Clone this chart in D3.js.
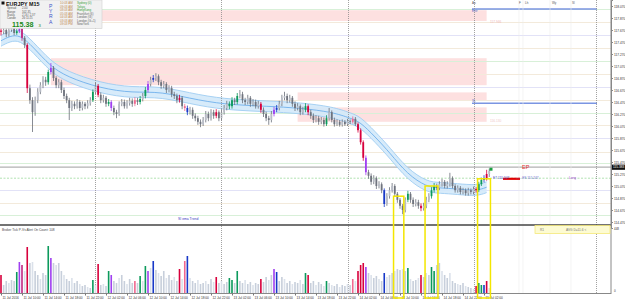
<!doctype html>
<html lang="en-US">
<head>
<meta charset="UTF-8">
<title>EURJPY M15</title>
<script src="https://cdn.jsdelivr.net/npm/d3@7"></script>
<style>
body { margin:0; background:#fff; }
svg { display:block; font-family:"Liberation Sans", Arial, sans-serif; }
</style>
</head>
<body>
<svg id="chart" width="625" height="303"></svg>
<script>

// ---- data (30 min bars from 11 Jul 06:00) ----
var firstOpen = 117.66;
var closes = [117.64,117.67,117.60,117.67,117.70,117.62,117.65,117.69,117.54,117.42,
  116.70,116.50,116.30,116.50,116.64,116.75,116.84,116.80,116.97,117.04,
  116.87,116.75,116.80,116.67,116.57,116.50,116.37,116.44,116.40,116.47,
  116.37,116.44,116.40,116.45,116.50,116.64,116.74,116.59,116.50,116.54,
  116.44,116.47,116.37,116.30,116.27,116.44,116.47,116.40,116.45,116.49,
  116.44,116.50,116.47,116.52,116.57,116.67,116.77,116.84,116.87,116.90,
  116.80,116.74,116.77,116.67,116.70,116.60,116.57,116.50,116.54,116.40,
  116.37,116.30,116.34,116.24,116.20,116.14,116.10,116.17,116.27,116.20,
  116.30,116.24,116.30,116.20,116.30,116.37,116.44,116.40,116.50,116.47,
  116.57,116.60,116.50,116.47,116.54,116.44,116.47,116.40,116.44,116.34,
  116.27,116.20,116.17,116.27,116.34,116.37,116.44,116.54,116.57,116.50,
  116.54,116.44,116.37,116.40,116.30,116.34,116.40,116.30,116.24,116.17,
  116.20,116.14,116.17,116.10,116.20,116.30,116.17,116.10,116.14,116.09,
  116.14,116.10,116.15,116.14,116.19,116.10,116.00,115.80,115.54,115.30,
  115.24,115.14,115.20,115.07,115.10,115.00,114.77,114.90,115.00,115.07,
  114.94,114.84,114.74,114.67,114.84,114.94,114.84,114.77,114.80,114.74,
  114.70,114.74,114.84,114.90,115.00,115.07,115.04,115.10,115.14,115.07,
  115.10,115.20,115.07,115.00,115.04,114.97,115.00,114.95,115.00,114.97,
  115.02,115.00,115.10,115.17,115.20,115.27,115.32];
var highs = [117.72,117.73,117.71,117.72,117.75,117.73,117.69,117.74,117.72,117.57,
  117.45,116.76,116.55,116.56,116.70,116.80,116.90,116.89,117.01,117.12,
  117.07,116.90,116.85,116.84,116.71,116.61,116.54,116.49,116.48,116.52,
  116.50,116.48,116.47,116.50,116.55,116.68,116.80,116.77,116.63,116.59,
  116.57,116.52,116.50,116.41,116.34,116.48,116.52,116.51,116.50,116.54,
  116.53,116.55,116.54,116.57,116.62,116.72,116.82,116.89,116.92,116.95,
  116.93,116.84,116.82,116.80,116.75,116.74,116.64,116.61,116.59,116.57,
  116.44,116.41,116.39,116.38,116.28,116.24,116.18,116.22,116.32,116.31,
  116.35,116.34,116.35,116.33,116.35,116.42,116.49,116.48,116.55,116.54,
  116.62,116.67,116.64,116.54,116.59,116.57,116.52,116.51,116.49,116.47,
  116.38,116.31,116.24,116.32,116.39,116.42,116.49,116.59,116.64,116.61,
  116.59,116.57,116.48,116.45,116.43,116.39,116.45,116.43,116.34,116.28,
  116.25,116.24,116.22,116.21,116.25,116.37,116.33,116.21,116.18,116.17,
  116.18,116.17,116.19,116.18,116.23,116.22,116.13,116.03,115.83,115.58,
  115.34,115.28,115.25,115.23,115.15,115.13,115.03,114.95,115.05,115.12,
  115.10,114.97,114.87,114.77,114.88,114.99,114.97,114.88,114.85,114.84,
  114.78,114.79,114.89,114.95,115.05,115.12,115.11,115.15,115.19,115.17,
  115.15,115.29,115.23,115.10,115.08,115.07,115.04,115.03,115.04,115.03,
  115.06,115.05,115.14,115.21,115.25,115.34,115.36];
var lows = [117.58,117.60,117.55,117.56,117.64,117.58,117.59,117.62,117.49,117.37,
  116.62,116.44,115.97,116.24,116.45,116.60,116.70,116.74,116.76,116.93,
  116.82,116.70,116.70,116.62,116.52,116.45,116.17,116.32,116.35,116.36,
  116.32,116.33,116.35,116.36,116.41,116.47,116.60,116.55,116.45,116.46,
  116.39,116.40,116.32,116.25,116.20,116.24,116.40,116.36,116.36,116.41,
  116.39,116.40,116.42,116.43,116.48,116.53,116.63,116.73,116.80,116.82,
  116.75,116.69,116.70,116.62,116.63,116.55,116.52,116.45,116.46,116.35,
  116.32,116.25,116.26,116.19,116.15,116.09,116.05,116.07,116.13,116.15,
  116.16,116.19,116.20,116.15,116.16,116.26,116.33,116.35,116.36,116.42,
  116.43,116.53,116.45,116.42,116.43,116.39,116.40,116.36,116.36,116.29,
  116.22,116.15,116.09,116.13,116.23,116.30,116.33,116.40,116.50,116.45,
  116.46,116.39,116.32,116.33,116.25,116.26,116.30,116.25,116.19,116.12,
  116.13,116.09,116.10,116.06,116.07,116.16,116.13,116.06,116.07,116.06,
  116.06,116.07,116.07,116.10,116.11,116.07,115.96,115.76,115.49,115.25,
  115.19,115.09,115.10,115.02,115.03,114.95,114.72,114.74,114.86,114.96,
  114.90,114.79,114.69,114.60,114.63,114.80,114.79,114.72,114.73,114.69,
  114.65,114.66,114.70,114.80,114.86,114.96,115.00,115.00,115.06,115.03,
  115.03,115.06,115.03,114.96,114.96,114.93,114.93,114.91,114.91,114.93,
  114.93,114.96,114.97,115.07,115.13,115.16,115.22];
var volumes = [18,8,12,10,13,12,21,31,28,22, 46,30,31,22,18,14,20,18,47,35,
  30,28,30,22,18,14,12,15,10,12, 9,7,8,6,5,13,8,29,8,9,
  7,22,18,12,10,15,18,12,9,14, 10,12,10,17,12,27,22,25,32,23,
  20,17,22,15,18,13,16,12,24,14, 32,37,15,12,10,13,9,10,12,9,
  14,11,16,10,12,9,11,15,13,10, 22,12,10,13,9,11,8,10,9,14,
  11,16,13,18,24,21,12,16,14,10, 12,9,11,10,13,9,20,18,10,12,
  8,11,9,7,12,10,8,7,9,6, 8,7,9,8,14,12,22,28,30,26,
  20,18,15,17,14,12,20,16,18,20, 22,24,23,24,22,25,14,12,13,15,
  18,16,20,18,26,22,28,30,22,18, 15,20,12,10,9,8,10,7,6,5,
  4,7,10,8,8,12,5];
// bars the tick-volume indicator paints in colour
var vsaBars = {0:'r',6:'g',7:'p',8:'m',10:'r',18:'g',19:'p',35:'g',37:'r',41:'g',42:'p',51:'k',
  53:'g',55:'g',56:'p',58:'b',68:'r',70:'k',71:'b',82:'r',87:'g',88:'g',90:'g',99:'r',104:'p',
  105:'b',116:'g',117:'r',124:'g',134:'k',136:'r',137:'r',138:'r',139:'p',146:'b',155:'g',
  160:'r',164:'g',165:'g',181:'r',182:'g',183:'g',184:'b',185:'r'};

// ema trend ribbon (bar index, price)
var emaIdx = [0,3.4,7.2,12.2,18.7,25.1,37.7,50.3,60.6,75.8,88.4,101.3,114,126.5,133,136.8,142.5,148.2,154.7,162.3,167.2,173.7,181.3,185];
var emaVal = [117.49,117.57,117.59,117.39,117.07,116.89,116.70,116.62,116.65,116.49,116.42,116.40,116.37,116.30,116.20,116.14,115.89,115.62,115.27,115.05,115.04,115.02,114.99,115.05];

var priceTicks = [118.070,117.870,117.670,117.470,117.270,117.070,116.870,116.670,116.470,116.270,116.070,115.870,115.670,115.470,115.270,115.070,114.870,114.670,114.470];
var timeLabels = ["11 Jul 2016","11 Jul 10:00","11 Jul 14:00","11 Jul 18:00","11 Jul 22:00",
  "12 Jul 02:00","12 Jul 06:00","12 Jul 10:00","12 Jul 14:00","12 Jul 18:00","12 Jul 22:00",
  "13 Jul 02:00","13 Jul 06:00","13 Jul 10:00","13 Jul 14:00","13 Jul 18:00","13 Jul 22:00",
  "14 Jul 02:00","14 Jul 06:00","14 Jul 10:00","14 Jul 14:00","14 Jul 18:00","14 Jul 22:00",
  "15 Jul 02:00"];
var daySeparators = [36,84,132,180];

// horizontal levels and their kinds
var levels = [118.02,117.80,117.59,117.37,117.15,116.94,116.72,116.50,116.29,116.09,115.87,115.64,115.45,115.00,114.79,114.59];
var levelKinds = ['g','t','l','t','g','t','l','t','g','t','l','t','g','l','t','g'];
// supply zones: start bar, end bar, top, bottom
var zoneStart = [12,19,113,113];
var zoneEnd = [185,185,185,185];
var zoneTop = [118.00,117.20,116.63,116.38];
var zoneBot = [117.82,116.75,116.50,116.14];
// yellow marker boxes: first bar, last bar, top price
var boxFrom = [150,162,182];
var boxTo = [153,166,186];
var boxTop = [114.90,115.07,115.19];

var bidPrice = 115.383;
var entryPrice = 115.247;

// ---- drawing ----
var svg = d3.select('#chart');
var axisX = 611, mainBot = 225, volTop = 226, volBot = 293;

var x = d3.scaleLinear().domain([0, 228]).range([1, 1 + 228 * 2.625]);
var y = d3.scaleLinear().domain([114.37, 118.17]).range([228, 0]);
var yv = d3.scaleLinear().domain([0, 67]).range([volBot, volTop]);

var pal = {r:'#d8003c', g:'#0c9a5c', p:'#a040f0', b:'#1838c8', k:'#f06890', m:'#c02880'};
var levelCol = {g:'#d8f0d8', t:'#f3eadb', l:'#e2e2f7'};

svg.append('rect').attr('width',625).attr('height',303).attr('fill','#fff');

svg.append('clipPath').attr('id','mainClip').append('rect')
  .attr('x',0).attr('y',0).attr('width',axisX).attr('height',mainBot);
var main = svg.append('g').attr('clip-path','url(#mainClip)');

// zones
main.selectAll('rect.zone').data(zoneTop).enter().append('rect')
  .attr('class','zone')
  .attr('x', function(d,i){ return x(zoneStart[i]); })
  .attr('width', function(d,i){ return x(zoneEnd[i]) - x(zoneStart[i]); })
  .attr('y', function(d){ return y(d); })
  .attr('height', function(d,i){ return y(zoneBot[i]) - y(d); })
  .attr('fill','#fde0e0');

// levels
main.selectAll('line.lvl').data(levels).enter().append('line')
  .attr('x1',0).attr('x2',axisX)
  .attr('y1', function(d){ return Math.round(y(d))+0.5; })
  .attr('y2', function(d){ return Math.round(y(d))+0.5; })
  .attr('stroke', function(d,i){ return levelCol[levelKinds[i]]; })
  .attr('stroke-width',1);

// light right-panel columns
[519,523,550,571].forEach(function(cx){
  svg.append('line').attr('x1',cx).attr('x2',cx).attr('y1',0).attr('y2',volBot)
    .attr('stroke','#ececec').attr('stroke-width',0.6);
});

// blue lines on the right
[118.02,116.45].forEach(function(p){
  main.append('line').attr('x1',472).attr('x2',597)
    .attr('y1',y(p)).attr('y2',y(p)).attr('stroke','#7b95e2').attr('stroke-width',1.6);
});

// bid and entry lines
main.append('line').attr('x1',0).attr('x2',axisX).attr('y1',y(bidPrice)).attr('y2',y(bidPrice))
  .attr('stroke','#b2b2b2').attr('stroke-width',1.3);
main.append('line').attr('x1',0).attr('x2',axisX).attr('y1',y(115.20)).attr('y2',y(115.20))
  .attr('stroke','#9ddc9d').attr('stroke-width',0.8).attr('stroke-dasharray','2,1.5');

// ema ribbon
var ema = emaIdx.map(function(d,i){ return {i:d, v:emaVal[i]}; });
var band = 0.09;
main.append('path').datum(ema)
  .attr('d', d3.area().curve(d3.curveBasis)
     .x(function(d){ return x(d.i); })
     .y0(function(d){ return y(d.v - band); })
     .y1(function(d){ return y(d.v + band); }))
  .attr('fill','#d3e9fa').attr('opacity',0.9);
[-band, band].forEach(function(off){
  main.append('path').datum(ema)
    .attr('d', d3.line().curve(d3.curveBasis)
       .x(function(d){ return x(d.i); })
       .y(function(d){ return y(d.v + off); }))
    .attr('fill','none').attr('stroke','#9fcdf2').attr('stroke-width',0.9);
});
main.append('path').datum(ema)
  .attr('d', d3.line().curve(d3.curveBasis)
     .x(function(d){ return x(d.i); })
     .y(function(d){ return y(d.v); }))
  .attr('fill','none').attr('stroke','#62a8ea').attr('stroke-width',0.8);

// day separators + right edge
daySeparators.concat([226.7]).forEach(function(b){
  svg.append('line').attr('x1',Math.round(x(b))+0.5).attr('x2',Math.round(x(b))+0.5)
    .attr('y1',0).attr('y2',volBot)
    .attr('stroke','#8a8a8a').attr('stroke-width',0.8).attr('stroke-dasharray','1,1');
});

// candles
var bars = closes.map(function(c,i){
  return {i:i, o: i ? closes[i-1] : firstOpen, h:highs[i], l:lows[i], c:c, v:volumes[i], k:vsaBars[i]};
});
function candleCol(d){
  if (d.k) return pal[d.k];
  return d.c >= d.o ? '#b9bdc7' : '#6f737e';
}
main.selectAll('line.wick').data(bars).enter().append('line')
  .attr('x1', function(d){ return x(d.i); }).attr('x2', function(d){ return x(d.i); })
  .attr('y1', function(d){ return y(d.h); }).attr('y2', function(d){ return y(d.l); })
  .attr('stroke', function(d){ return d.k ? pal[d.k] : '#6a6e78'; })
  .attr('stroke-width',0.8);
main.selectAll('rect.body').data(bars).enter().append('rect')
  .attr('x', function(d){ return x(d.i) - 0.9; })
  .attr('width',1.8)
  .attr('y', function(d){ return y(Math.max(d.o,d.c)); })
  .attr('height', function(d){ return Math.max(0.7, Math.abs(y(d.o) - y(d.c))); })
  .attr('fill', candleCol);

// volume panel
svg.selectAll('rect.vol').data(bars).enter().append('rect')
  .attr('x', function(d){ return x(d.i) - 0.8; })
  .attr('width',1.6)
  .attr('y', function(d){ return yv(d.v); })
  .attr('height', function(d){ return volBot - yv(d.v); })
  .attr('fill', function(d){ return d.k ? pal[d.k] : (d.i % 3 ? '#c7cfdb' : '#dbe1ea'); });

// panel separator and frame
svg.append('line').attr('x1',0).attr('x2',axisX).attr('y1',mainBot).attr('y2',mainBot)
  .attr('stroke','#444').attr('stroke-width',1.6);
svg.append('line').attr('x1',0).attr('x2',axisX).attr('y1',volBot+0.5).attr('y2',volBot+0.5)
  .attr('stroke','#888').attr('stroke-width',1);

// axes
var yAxis = svg.append('g').attr('transform','translate(' + axisX + ',0)')
  .call(d3.axisRight(y).tickValues(priceTicks).tickFormat(d3.format('.3f')).tickSize(2));
yAxis.select('.domain').attr('stroke','#888');
yAxis.selectAll('text').attr('font-size',3.2).attr('fill','#333').attr('x',3);
yAxis.selectAll('line').attr('stroke','#888');
svg.append('line').attr('x1',axisX).attr('x2',axisX).attr('y1',0).attr('y2',volBot+1).attr('stroke','#888');

var xAxis = svg.append('g').attr('transform','translate(0,' + (volBot+0.5) + ')')
  .call(d3.axisBottom(x).tickValues(timeLabels.map(function(d,i){ return i*8; }))
    .tickFormat(function(d,i){ return timeLabels[i]; }).tickSize(2));
xAxis.select('.domain').remove();
xAxis.selectAll('line').attr('stroke','#777');
xAxis.selectAll('text').attr('font-size',3.2).attr('fill','#333').attr('text-anchor','start').attr('x',1).attr('y',3);

// bid tag on axis
svg.append('rect').attr('x',axisX+1).attr('y',y(bidPrice)-2.6).attr('width',13).attr('height',5.2).attr('fill','#111');
svg.append('text').attr('x',axisX+2).attr('y',y(bidPrice)+1.2).attr('font-size',3.2).attr('fill','#fff').text(bidPrice.toFixed(3));

// volume axis labels
svg.append('text').attr('x',axisX+3).attr('y',230).attr('font-size',3).attr('fill','#333').text('448');
svg.append('text').attr('x',axisX+3).attr('y',292).attr('font-size',3).attr('fill','#333').text('0');
svg.append('text').attr('x',2).attr('y',231).attr('font-size',3.2).attr('fill','#444')
  .text('Broker Tick P-Vs     Alert On     Count: 108');

// yellow marker boxes
svg.selectAll('rect.ybox').data(boxTop).enter().append('rect')
  .attr('x', function(d,i){ return x(boxFrom[i]) - 1.2; })
  .attr('width', function(d,i){ return x(boxTo[i]) - x(boxFrom[i]) + 2.4; })
  .attr('y', function(d){ return y(d); })
  .attr('height', function(d){ return 298 - y(d); })
  .attr('fill','none').attr('stroke','#f3e600').attr('stroke-width',1.5);

// trade markers
svg.append('rect').attr('x',489.5).attr('y',y(bidPrice)+0.5).attr('width',3).attr('height',3).attr('fill','#1aa040');
svg.append('line').attr('x1',503).attr('x2',520).attr('y1',y(115.19)).attr('y2',y(115.19))
  .attr('stroke','#e00000').attr('stroke-width',2.2);
svg.append('text').attr('x',522).attr('y',y(bidPrice)+2).attr('font-size',5.5).attr('fill','#e03030').text('EP');
svg.append('text').attr('x',493).attr('y',y(entryPrice)+3.5).attr('font-size',3.2).attr('fill','#4848c8').text('ET 115.247');
svg.append('text').attr('x',516).attr('y',y(entryPrice)+3.5).attr('font-size',3.2).attr('fill','#6b6bd0').text('-----  ES  115.247,');
svg.append('text').attr('x',569).attr('y',y(entryPrice)+3.5).attr('font-size',3.2).attr('fill','#a040d0').text('Long');

// small texts in the chart
svg.append('text').attr('x',178).attr('y',220).attr('font-size',3.4).attr('fill','#3838c0').text('SI ema Trend');
svg.append('text').attr('x',472).attr('y',12).attr('font-size',3).attr('fill','#5060c0').text('Entr');
svg.append('text').attr('x',472).attr('y',102).attr('font-size',3).attr('fill','#5060c0').text('SL');
svg.append('text').attr('x',490).attr('y',23).attr('font-size',3.2).attr('fill','#f0b8b8').text('117.946');
svg.append('text').attr('x',490).attr('y',122).attr('font-size',3.2).attr('fill','#f0c8c8').text('116.130');
[['Au',472],['F',519],['Lh',525],['Wy',552],['Sl',572]].forEach(function(t){
  svg.append('text').attr('x',t[1]).attr('y',4).attr('font-size',3).attr('fill','#555').text(t[0]);
});

// bottom-right info box
svg.append('rect').attr('x',535).attr('y',225.5).attr('width',75).attr('height',8).attr('fill','#fdfbd2').attr('stroke','#f2e46a').attr('stroke-width',0.7);
svg.append('text').attr('x',540).attr('y',231).attr('font-size',3.2).attr('fill','#777').text('R1');
svg.append('text').attr('x',566).attr('y',231).attr('font-size',3.2).attr('fill','#777').text('AVG D=11.6 <');

// header box
var hb = svg.append('g');
hb.append('rect').attr('x',0).attr('y',0).attr('width',102).attr('height',28.5).attr('fill','#f1f1f1').attr('stroke','#cfcfcf').attr('stroke-width',0.6);
hb.append('rect').attr('x',1.5).attr('y',1.5).attr('width',3).attr('height',3).attr('fill','#111');
hb.append('text').attr('x',6).attr('y',6).attr('font-size',5.4).attr('font-weight','bold').attr('fill','#111').text('EURJPY   M15');
var infoL = ['Spread','Range','Status','Candle'];
var infoV = ['2.00','102.35','2.16 / 2.37','26:11:25'];
infoL.forEach(function(t,i){
  hb.append('text').attr('x',7).attr('y',9.4+i*3.2).attr('font-size',2.8).attr('fill','#555').text(t);
  hb.append('text').attr('x',22).attr('y',9.4+i*3.2).attr('font-size',2.8).attr('fill','#555').text(infoV[i]);
});
hb.append('text').attr('x',12).attr('y',27).attr('font-size',7.2).attr('font-weight','bold').attr('fill','#1a8a1a').text('115.38');
hb.append('text').attr('x',38.5).attr('y',27).attr('font-size',4.2).attr('fill','#1a8a1a').text('3');
['P','Y','R','A'].forEach(function(t,i){
  hb.append('text').attr('x',49).attr('y',8+i*5.2).attr('font-size',5).attr('fill','#3c50c8').text(t);
});
var sessT = ['10:03 AM','09:03 AM','08:03 AM','05:03 AM','04:03 AM','03:03 AM','09:03 PM'];
var sessN = ['Sydney (0)','Tokyo','HongKong','Frankfurt (6)','London (G)','London (G+1)','NewYork'];
sessT.forEach(function(t,i){
  hb.append('text').attr('x',60).attr('y',4+i*3.5).attr('font-size',3).attr('fill','#c08a50').text(t);
  hb.append('text').attr('x',77).attr('y',4+i*3.5).attr('font-size',3).attr('fill', i < 3 ? '#38a038' : '#666').text(sessN[i]);
});

</script>
</body>
</html>
